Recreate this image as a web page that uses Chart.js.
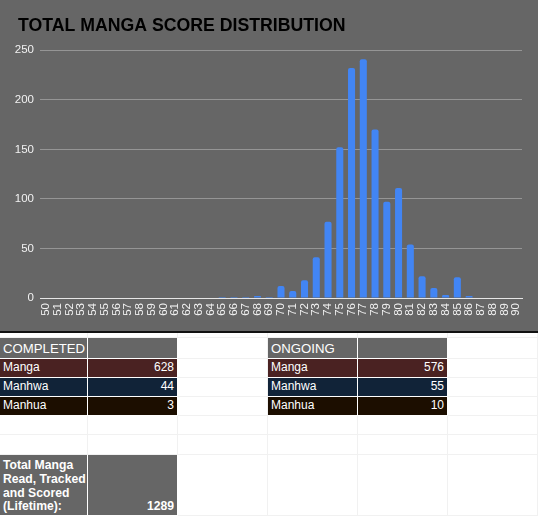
<!DOCTYPE html>
<html>
<head>
<meta charset="utf-8">
<script src="https://cdn.jsdelivr.net/npm/chart.js@4"></script>
<style>
  body { margin: 0; width: 538px; height: 516px; overflow: hidden; background: #fff; font-family: "Liberation Sans", Arial, sans-serif; position: relative; }
  #chartBox { position: absolute; left: 0; top: 0; width: 538px; height: 331px; background: #666666; }
  #rule { position: absolute; left: 0; top: 331px; width: 538px; height: 2px; background: #111; }
  .cell { position: absolute; box-sizing: border-box; display: flex; align-items: flex-end; overflow: hidden; white-space: nowrap; color: #fff; font-size: 12px; line-height: 1.15; padding: 0 3px 2px 3px; }
  .blank { border-right: 1px solid #f1f1f1; border-bottom: 1px solid #f1f1f1; }
  .num { justify-content: flex-end; }
  .head { font-size: 13.2px; }
  .total { font-weight: bold; font-size: 12.2px; line-height: 13.7px; padding-bottom: 1px; }
</style>
</head>
<body>
<div id="chartBox"><canvas id="chart" width="538" height="331"></canvas></div>
<div id="rule"></div>
<div id="sheet"></div>
<script>
var score_labels = ["50", "51", "52", "53", "54", "55", "56", "57", "58", "59", "60", "61", "62", "63", "64", "65", "66", "67", "68", "69", "70", "71", "72", "73", "74", "75", "76", "77", "78", "79", "80", "81", "82", "83", "84", "85", "86", "87", "88", "89", "90"];
var score_counts = [0, 0, 0, 0, 0, 0, 0, 0, 0, 0, 0, 0, 0, 0, 0, 1, 1, 1, 2, 1, 12, 7, 18, 41, 77, 152, 232, 241, 170, 97, 111, 54, 22, 10, 3, 21, 2, 0, 0, 0, 0];

var type_names = ["Manga", "Manhwa", "Manhua"];
var type_colors = ["#4a2222", "#112338", "#1c0e00"];
var completed_counts = [628, 44, 3];
var ongoing_counts = [576, 55, 10];
var total_scored = 1289;

Chart.defaults.font.family = '"Liberation Sans", Arial, sans-serif';

// the title sits a bit right of the canvas edge, the y labels don't
var titleShift = {
    id: 'titleShift',
    afterLayout: function (chart) {
        if (chart.titleBlock) {
            chart.titleBlock.left += 18;
            chart.titleBlock.right += 18;
        }
    }
};

var myChart = new Chart(document.getElementById("chart"), {
    type: 'bar',
    data: {
        labels: score_labels,
        datasets: [{
            data: score_counts,
            backgroundColor: "#4285f4",
            barPercentage: 0.6,
            categoryPercentage: 1,
            borderRadius: { topLeft: 2, topRight: 2 },
            borderSkipped: 'start'
        }]
    },
    options: {
        responsive: false,
        animation: false,
        layout: { padding: { left: 0, right: 16, top: 0, bottom: 0 } },
        plugins: {
            legend: { display: false },
            tooltip: { enabled: false },
            title: {
                display: true,
                text: "TOTAL MANGA SCORE DISTRIBUTION",
                align: 'start',
                color: "#000",
                font: { size: 17.7, weight: 'bold' },
                padding: { top: 15, bottom: 14 }
            }
        },
        scales: {
            x: {
                grid: { display: false, drawTicks: false },
                border: { color: "#e6e6e6", width: 1 },
                ticks: { color: "#f2f2f2", font: { size: 11.5 }, minRotation: 90, maxRotation: 90, autoSkip: false, padding: 5 },
                afterFit: function (scale) { scale.height = 33; }
            },
            y: {
                min: 0,
                max: 250,
                ticks: { stepSize: 50, color: "#f2f2f2", font: { size: 11.5 }, padding: 6 },
                grid: {
                    drawTicks: false,
                    color: function (ctx) { return ctx.tick && ctx.tick.value === 0 ? "rgba(0,0,0,0)" : "#959595"; }
                },
                border: { display: false },
                afterFit: function (scale) { scale.width = 40; }
            }
        }
    },
    plugins: [titleShift]
});

// spreadsheet part under the chart
var col_x = [0, 88, 178, 268, 358, 448, 538];
var row_y = [333, 338, 359, 378, 397, 416, 435, 455, 516];
var sheet = document.getElementById("sheet");
var filled = {};

function addCell(c, r, text, cls, bg, rowSpan) {
    var d = document.createElement("div");
    var end = r + (rowSpan || 1);
    d.className = "cell " + (cls || "");
    d.style.left = col_x[c] + "px";
    d.style.top = row_y[r] + "px";
    d.style.width = (col_x[c + 1] - col_x[c] - (bg ? 1 : 0)) + "px";
    d.style.height = (row_y[end] - row_y[r] - (bg ? 1 : 0)) + "px";
    if (bg) d.style.background = bg;
    d.innerHTML = text;
    sheet.appendChild(d);
    for (var k = r; k < end; k++) filled[c + "_" + k] = true;
}

function addTable(c, title, counts) {
    addCell(c, 1, title, "head", "#666666");
    addCell(c + 1, 1, "", "", "#666666");
    for (var i = 0; i < type_names.length; i++) {
        addCell(c, 2 + i, type_names[i], "", type_colors[i]);
        addCell(c + 1, 2 + i, counts[i], "num", type_colors[i]);
    }
}

addTable(0, "COMPLETED", completed_counts);
addTable(3, "ONGOING", ongoing_counts);
addCell(0, 7, "<div>Total Manga<br>Read, Tracked<br>and Scored<br>(Lifetime):</div>", "total", "#666666");
addCell(1, 7, total_scored, "total num", "#666666");

for (var c = 0; c < 6; c++) {
    for (var r = 0; r < row_y.length - 1; r++) {
        if (!filled[c + "_" + r]) addCell(c, r, "", "blank");
    }
}
</script>
</body>
</html>
